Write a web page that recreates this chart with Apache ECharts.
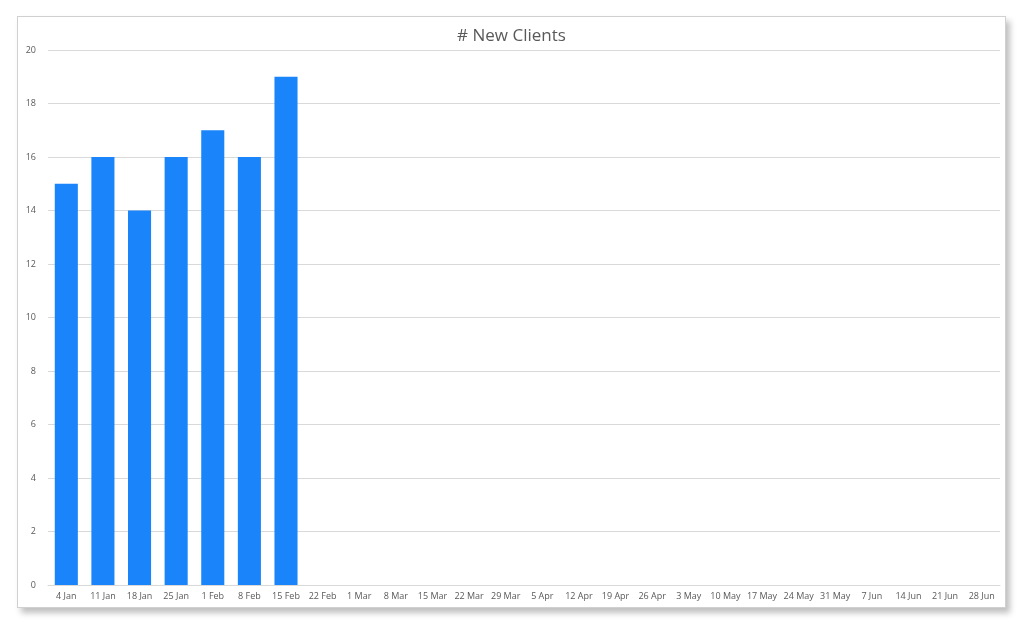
<!DOCTYPE html>
<html>
<head>
<meta charset="utf-8">
<script src="https://cdn.jsdelivr.net/npm/echarts@6/dist/echarts.min.js"></script>
<style>
  html, body { margin: 0; padding: 0; background: #fff; }
  #frame {
    position: absolute; left: 17px; top: 16px; width: 987px; height: 590px;
    border: 1px solid #d0d0d0; background: #fff;
    box-shadow: 4px 5px 6px rgba(0,0,0,0.25);
  }
  #chart { width: 987px; height: 590px; }
</style>
</head>
<body>
<div id="frame"><div id="chart"></div></div>
<script>
var weeks = ['4 Jan', '11 Jan', '18 Jan', '25 Jan', '1 Feb', '8 Feb', '15 Feb', '22 Feb',
  '1 Mar', '8 Mar', '15 Mar', '22 Mar', '29 Mar', '5 Apr', '12 Apr', '19 Apr', '26 Apr',
  '3 May', '10 May', '17 May', '24 May', '31 May', '7 Jun', '14 Jun', '21 Jun', '28 Jun'];
var newClients = [15, 16, 14, 16, 17, 16, 19, null, null, null, null, null, null, null,
  null, null, null, null, null, null, null, null, null, null, null, null];

var chart = echarts.init(document.getElementById('chart'));
var font = '"Open Sans", "Noto Sans", sans-serif';

chart.setOption({
  animation: false,
  title: {
    text: '# New Clients',
    left: 'center',
    top: 6,
    textStyle: { fontFamily: font, fontSize: 17, fontWeight: 'normal', color: '#595959' }
  },
  grid: { left: 30, right: 5, top: 33, bottom: 22, containLabel: false },
  xAxis: {
    type: 'category',
    data: weeks,
    axisLine: { lineStyle: { color: '#d9d9d9' } },
    axisTick: { show: false },
    axisLabel: { interval: 0, fontFamily: font, fontSize: 9, color: '#595959', margin: 7 }
  },
  yAxis: {
    type: 'value',
    min: 0,
    max: 20,
    interval: 2,
    axisLine: { show: false },
    axisTick: { show: false },
    splitLine: { lineStyle: { color: '#d9d9d9' } },
    axisLabel: { fontFamily: font, fontSize: 9, color: '#595959', margin: 12 }
  },
  series: [{
    type: 'bar',
    data: newClients,
    barCategoryGap: '37%',
    itemStyle: { color: '#1a84fb' }
  }]
});
</script>
</body>
</html>
